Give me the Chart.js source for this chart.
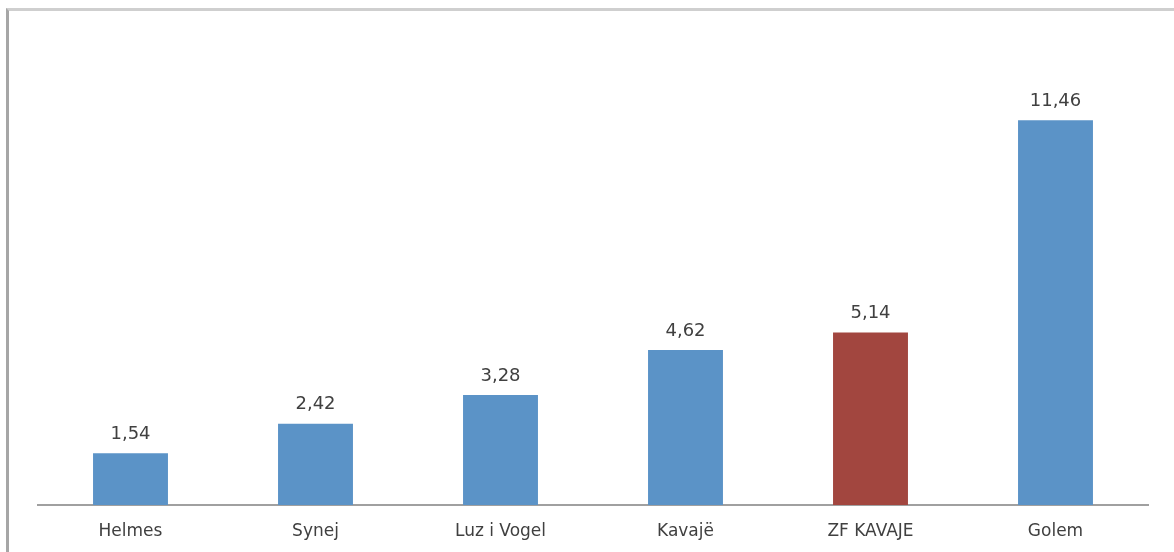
<!DOCTYPE html>
<html>
<head>
<meta charset="utf-8">
<script src="https://cdn.jsdelivr.net/npm/chart.js@4"></script>
<style>
  body { margin: 0; background: #fff; }
  #wrap { position: relative; width: 1174px; height: 552px; }
  #frame {
    position: absolute; left: 6px; top: 8px; right: -10px; bottom: -10px;
    border-left: 3px solid #a6a6a6; border-top: 3px solid #cfcfcf;
  }
  canvas { position: absolute; left: 0; top: 0; }
</style>
</head>
<body>
<div id="wrap">
  <div id="frame"></div>
  <canvas id="grafico" width="1174" height="552"></canvas>
</div>
<script>
const categorias = ['Helmes', 'Synej', 'Luz i Vogel', 'Kavajë', 'ZF KAVAJE', 'Golem'];
const valores = [1.54, 2.42, 3.28, 4.62, 5.14, 11.46];
const colores = ['#5b93c7', '#5b93c7', '#5b93c7', '#5b93c7', '#a2463f', '#5b93c7'];

// etiquetas de valor encima de cada barra (coma decimal)
const etiquetasValor = {
  id: 'etiquetasValor',
  afterDatasetsDraw(chart) {
    const ctx = chart.ctx;
    const meta = chart.getDatasetMeta(0);
    ctx.save();
    ctx.font = '18px "DejaVu Sans", sans-serif';
    ctx.fillStyle = '#404040';
    ctx.textAlign = 'center';
    ctx.textBaseline = 'middle';
    meta.data.forEach((bar, i) => {
      ctx.fillText(valores[i].toFixed(2).replace('.', ','), bar.x, bar.y - 19);
    });
    ctx.restore();
  }
};

new Chart(document.getElementById('grafico'), {
  type: 'bar',
  data: {
    labels: categorias,
    datasets: [{
      data: valores,
      backgroundColor: colores,
      borderWidth: 0,
      barPercentage: 0.5,
      categoryPercentage: 0.81
    }]
  },
  options: {
    responsive: false,
    animation: false,
    layout: { padding: { left: 38, right: 26, top: 35, bottom: 0 } },
    plugins: {
      legend: { display: false },
      tooltip: { enabled: false }
    },
    scales: {
      x: {
        grid: { display: false },
        border: { color: '#a0a0a0', width: 2 },
        ticks: {
          color: '#404040',
          padding: 8,
          font: { family: '"DejaVu Sans", sans-serif', size: 17 }
        },
        afterFit(scale) { scale.height = 47; }
      },
      y: { display: false, min: 0, max: 14 }
    }
  },
  plugins: [etiquetasValor]
});
</script>
</body>
</html>
